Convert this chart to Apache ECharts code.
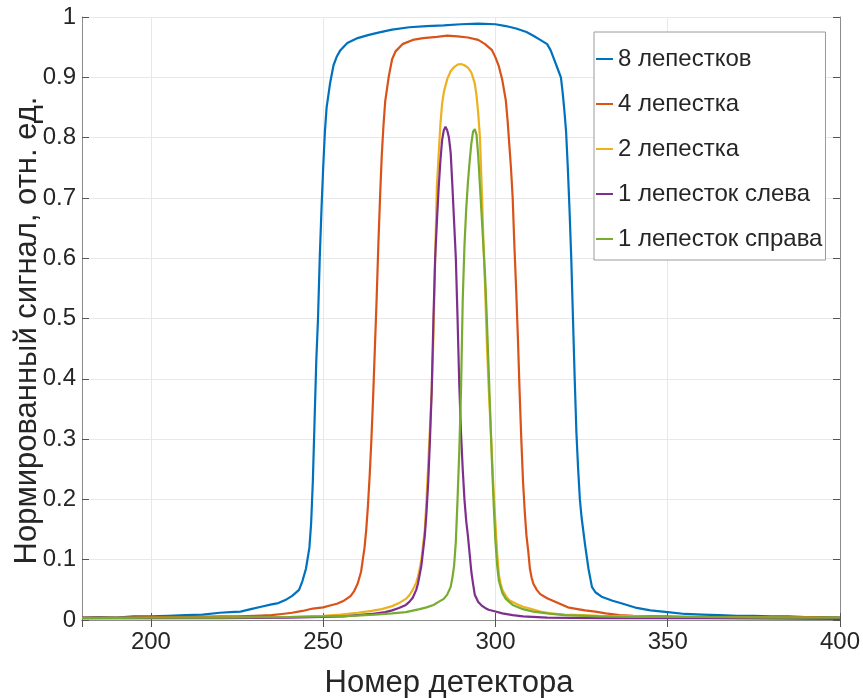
<!DOCTYPE html>
<html>
<head>
<meta charset="utf-8">
<script src="https://cdn.jsdelivr.net/npm/echarts@6/dist/echarts.min.js"></script>
<style>
  html, body { margin: 0; padding: 0; background: #fff; }
  #chart { width: 863px; height: 698px; }
</style>
</head>
<body>
<div id="chart"></div>
<script>
// Normalized detector signal profiles for different numbers of petals
const seriesNames = ['8 лепестков', '4 лепестка', '2 лепестка', '1 лепесток слева', '1 лепесток справа'];
const xTickLabels = [200, 250, 300, 350, 400];

const petals8X = [180,185,190,195,200,205,210,215,220,223,226,229,232,235,237,239,241,242,243,244,245,246,246.5,247,247.5,248,248.5,249,249.5,250,250.5,251,252,253,254,255,257,260,263,266,270,275,280,285,290,295,300,303,306,309,311,313,315,316,317,318,319,319.5,320,320.5,321,321.5,322,322.5,323,323.5,324,324.5,325,326,327,328,329,331,334,337,341,345,350,355,360,365,370,375,380,385,390,395,400];
const petals8Y = [0.004,0.005,0.004,0.006,0.006,0.007,0.008,0.009,0.012,0.013,0.014,0.018,0.022,0.026,0.028,0.033,0.040,0.045,0.050,0.065,0.085,0.120,0.160,0.230,0.330,0.430,0.500,0.600,0.680,0.750,0.810,0.850,0.890,0.920,0.935,0.945,0.957,0.965,0.970,0.974,0.979,0.983,0.985,0.986,0.988,0.989,0.988,0.985,0.981,0.975,0.969,0.962,0.955,0.945,0.930,0.915,0.900,0.875,0.845,0.810,0.750,0.680,0.600,0.500,0.400,0.310,0.250,0.200,0.170,0.125,0.085,0.055,0.046,0.038,0.032,0.027,0.020,0.016,0.013,0.010,0.009,0.008,0.007,0.007,0.006,0.006,0.005,0.005,0.004];

const petals4X = [180,190,200,210,220,225,230,235,238,241,244,247,250,252,254,256,257,258,259,260,261,261.5,262,262.5,263,263.5,264,264.5,265,265.5,266,266.5,267,267.5,268,269,270,271,273,276,279,283,286,289,292,295,297,299,300,301,302,303,303.5,304,304.5,305,305.5,306,306.5,307,307.5,308,308.5,309,309.5,310,310.5,311,312,313,315,317,319,321,323,326,329,332,336,340,350,360,370,380,390,400];
const petals4Y = [0.004,0.004,0.005,0.005,0.006,0.006,0.007,0.008,0.010,0.012,0.015,0.019,0.021,0.024,0.027,0.032,0.036,0.040,0.048,0.060,0.080,0.100,0.120,0.150,0.190,0.240,0.300,0.370,0.450,0.530,0.620,0.700,0.770,0.820,0.860,0.900,0.930,0.943,0.955,0.962,0.965,0.967,0.969,0.968,0.966,0.962,0.955,0.945,0.933,0.918,0.895,0.862,0.830,0.790,0.750,0.700,0.620,0.550,0.470,0.380,0.300,0.230,0.180,0.140,0.115,0.085,0.070,0.060,0.050,0.043,0.036,0.031,0.026,0.021,0.019,0.016,0.014,0.011,0.008,0.007,0.006,0.005,0.005,0.004,0.005,0.004];

const petals2X = [180,200,220,240,250,255,260,264,267,270,272,274,275,276,277,277.5,278,278.5,279,279.5,280,280.5,281,281.5,282,282.5,283,283.5,284,284.5,285,286,287,288,289,290,291,292,293,294,294.5,295,295.5,296,296.5,297,297.5,298,298.5,299,299.5,300,300.5,301,301.5,302,303,304,306,308,310,313,316,320,325,330,340,350,360,380,400];
const petals2Y = [0.003,0.003,0.004,0.005,0.007,0.009,0.012,0.015,0.018,0.023,0.028,0.035,0.041,0.050,0.062,0.072,0.085,0.100,0.125,0.150,0.200,0.260,0.320,0.380,0.470,0.600,0.720,0.770,0.820,0.855,0.875,0.897,0.910,0.917,0.921,0.922,0.920,0.916,0.908,0.890,0.870,0.840,0.800,0.720,0.630,0.550,0.460,0.390,0.330,0.270,0.210,0.160,0.110,0.075,0.060,0.050,0.040,0.033,0.027,0.022,0.019,0.014,0.011,0.009,0.008,0.007,0.006,0.005,0.004,0.004,0.003];

const leftPetalX = [180,200,220,240,250,256,260,264,268,270,272,274,275,276,277,277.5,278,278.5,279,279.5,280,280.5,281,281.5,282,282.5,283,283.5,284,284.5,285,285.5,286,286.5,287,287.5,288,288.5,289,289.5,290,290.5,291,291.5,292,292.5,293,293.5,294,295,296,297,298,300,302,305,308,315,330,360,400];
const leftPetalY = [0.003,0.003,0.003,0.004,0.005,0.006,0.008,0.010,0.013,0.016,0.020,0.025,0.030,0.037,0.050,0.060,0.075,0.090,0.115,0.140,0.180,0.230,0.300,0.380,0.500,0.600,0.660,0.715,0.760,0.795,0.812,0.818,0.812,0.800,0.775,0.720,0.660,0.600,0.500,0.390,0.310,0.250,0.200,0.165,0.140,0.110,0.080,0.060,0.042,0.030,0.024,0.020,0.017,0.014,0.011,0.008,0.006,0.004,0.003,0.003,0.002];

const rightPetalX = [180,200,220,240,250,258,265,270,274,278,280,282,283.5,285,286,287,287.5,288,288.5,289,289.5,290,290.5,291,291.5,292,292.5,293,293.5,294,294.5,295,295.5,296,296.5,297,297.5,298,298.5,299,299.5,300,300.5,301,302,303,305,308,311,315,320,330,340,360,380,400];
const rightPetalY = [0.003,0.004,0.004,0.005,0.006,0.007,0.009,0.011,0.013,0.018,0.021,0.025,0.030,0.035,0.042,0.055,0.070,0.090,0.130,0.200,0.280,0.380,0.530,0.620,0.680,0.725,0.760,0.790,0.810,0.814,0.805,0.770,0.720,0.670,0.620,0.570,0.500,0.420,0.340,0.260,0.190,0.130,0.090,0.065,0.045,0.035,0.025,0.018,0.014,0.011,0.008,0.006,0.005,0.005,0.004,0.004];

const lineColors = ['#0072BD', '#D95319', '#EDB120', '#7E2F8E', '#77AC30'];

function pairs(xs, ys) { return xs.map((x, i) => [x, ys[i]]); }

const profiles = [
  pairs(petals8X, petals8Y),
  pairs(petals4X, petals4Y),
  pairs(petals2X, petals2Y),
  pairs(leftPetalX, leftPetalY),
  pairs(rightPetalX, rightPetalY)
];

const FONT = '"Liberation Sans", Arial, sans-serif';
const TEXT = '#262626';
const FRAME = '#8c8c8c';

const chart = echarts.init(document.getElementById('chart'), null, { renderer: 'canvas' });

// top and right frame edges with inward ticks
const frameAxis = {
  axisLine: { show: true, lineStyle: { color: FRAME, width: 1 } },
  axisTick: { show: true, inside: true, length: 7, lineStyle: { color: '#555' } },
  axisLabel: { show: false },
  splitLine: { show: false }
};

chart.setOption({
  animation: false,
  backgroundColor: '#fff',
  textStyle: { fontFamily: FONT },
  grid: { left: 82, right: 23, top: 17, bottom: 78, containLabel: false, outerBoundsMode: 'none' },
  legend: {
    orient: 'vertical',
    left: 594,
    top: 32,
    data: seriesNames.map(n => ({ name: n, icon: 'rect' })),
    itemWidth: 17,
    itemHeight: 2,
    itemGap: 19,
    padding: [14, 3, 8, 2],
    backgroundColor: '#fff',
    borderColor: '#9a9a9a',
    borderWidth: 1,
    textStyle: { fontFamily: FONT, fontSize: 24, color: TEXT, lineHeight: 26 }
  },
  xAxis: [
    {
      type: 'value',
      min: 180,
      max: 400,
      splitNumber: 5,
      name: 'Номер детектора',
      nameLocation: 'middle',
      nameGap: 48,
      nameMoveOverlap: false,
      nameTextStyle: { fontFamily: FONT, fontSize: 31, color: TEXT, padding: [0, 24, 0, 0] },
      axisLine: { show: true, onZero: false, lineStyle: { color: FRAME, width: 1 } },
      axisTick: { show: true, inside: true, length: 7, lineStyle: { color: '#555' } },
      axisLabel: {
        fontFamily: FONT, fontSize: 24, color: TEXT, margin: 10,
        showMinLabel: false,
        formatter: v => (xTickLabels.indexOf(v) >= 0 ? String(v) : '')
      },
      splitLine: { show: true, lineStyle: { color: '#e8e8e8', width: 1 } }
    },
    Object.assign({ type: 'value', min: 180, max: 400, splitNumber: 5, position: 'top' }, frameAxis)
  ],
  yAxis: [
    {
      type: 'value',
      min: 0,
      max: 1,
      interval: 0.1,
      name: 'Нормированный сигнал, отн. ед.',
      nameLocation: 'middle',
      nameGap: 39,
      nameMoveOverlap: false,
      nameTextStyle: { fontFamily: FONT, fontSize: 31, color: TEXT, padding: [0, 24, 0, 0] },
      axisLine: { show: true, onZero: false, lineStyle: { color: FRAME, width: 1 } },
      axisTick: { show: true, inside: true, length: 7, lineStyle: { color: '#555' } },
      axisLabel: {
        fontFamily: FONT, fontSize: 24, color: TEXT, margin: 6,
        formatter: v => String(Math.round(v * 10) / 10)
      },
      splitLine: { show: true, lineStyle: { color: '#e8e8e8', width: 1 } }
    },
    Object.assign({ type: 'value', min: 0, max: 1, interval: 0.1, position: 'right' }, frameAxis)
  ],
  series: profiles.map((d, i) => ({
    name: seriesNames[i],
    type: 'line',
    data: d,
    showSymbol: false,
    symbol: 'none',
    smooth: false,
    lineStyle: { width: 2.2, color: lineColors[i] },
    itemStyle: { color: lineColors[i] },
    z: 2 + i
  }))
});
</script>
</body>
</html>
